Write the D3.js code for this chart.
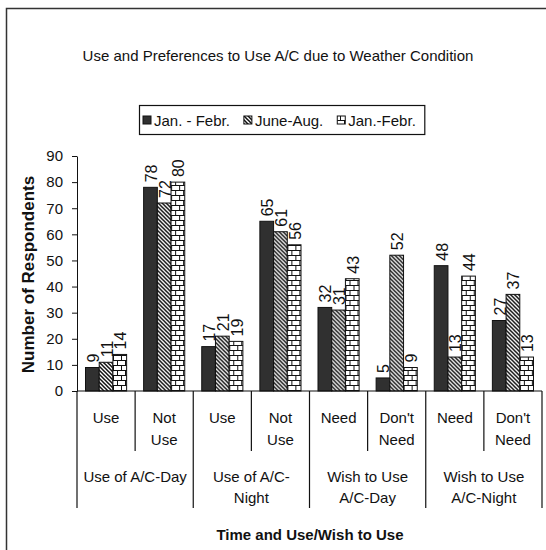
<!DOCTYPE html>
<html>
<head>
<meta charset="utf-8">
<script src="https://cdn.jsdelivr.net/npm/d3@7"></script>
<style>
  body { margin: 0; background: #fff; }
  text { font-family: "Liberation Sans", Arial, sans-serif; fill: #111; }
</style>
</head>
<body>
<svg id="chart"></svg>
<script>
let title = 'Use and Preferences to Use A/C due to Weather Condition'
let seriesNames = ['Jan. - Febr.', 'June-Aug.', 'Jan.-Febr.']
let subLabels = [['Use'], ['Not', 'Use'], ['Use'], ['Not', 'Use'], ['Need'], ["Don't", 'Need'], ['Need'], ["Don't", 'Need']]
let groupLabels = [['Use of A/C-Day'], ['Use of A/C-', 'Night'], ['Wish to Use', 'A/C-Day'], ['Wish to Use', 'A/C-Night']]
let janFeb = [9, 78, 17, 65, 32, 5, 48, 27]
let juneAug = [11, 72, 21, 61, 31, 52, 13, 37]
let janFeb2 = [14, 80, 19, 56, 43, 9, 44, 13]
let yTicks = [0, 10, 20, 30, 40, 50, 60, 70, 80, 90]

let opts = {
    width: 546,
    height: 550,
    left: 77,
    right: 542,
    top: 156,
    bottom: 391,
}

let series = [janFeb, juneAug, janFeb2]
let fills = ['#303030', 'url(#hatch)', 'url(#brick)']

let svg = d3.select('#chart')
    .attr('width', opts.width)
    .attr('height', opts.height)

// patterns
let defs = svg.append('defs')
let hatch = defs.append('pattern')
    .attr('id', 'hatch')
    .attr('patternUnits', 'userSpaceOnUse')
    .attr('width', 4)
    .attr('height', 4)
hatch.append('rect').attr('width', 4).attr('height', 4).attr('fill', '#fff')
hatch.append('path')
    .attr('d', 'M-1,-1 L5,5 M-1,3 L1,5 M3,-1 L5,1')
    .attr('stroke', '#111')
    .attr('stroke-width', 1.5)

let brick = defs.append('pattern')
    .attr('id', 'brick')
    .attr('patternUnits', 'userSpaceOnUse')
    .attr('width', 8)
    .attr('height', 10)
brick.append('rect').attr('width', 8).attr('height', 10).attr('fill', '#fff')
brick.append('path')
    .attr('d', 'M0,0.5 H8 M0,5.5 H8 M0.5,0 V5 M4.5,5 V10')
    .attr('stroke', '#111')
    .attr('stroke-width', 1)

// frame
svg.append('rect')
    .attr('x', 6.5)
    .attr('y', 8.5)
    .attr('width', 700)
    .attr('height', 700)
    .attr('fill', 'none')
    .attr('stroke', '#333')
    .attr('stroke-width', 1.5)

svg.append('text')
    .attr('x', 278)
    .attr('y', 55)
    .attr('text-anchor', 'middle')
    .attr('dominant-baseline', 'central')
    .style('font-size', '15px')
    .text(title)

// scales
let x = d3.scaleBand()
    .domain(d3.range(subLabels.length))
    .range([opts.left, opts.right])

let xs = d3.scaleBand()
    .domain(d3.range(series.length))
    .range([0, x.bandwidth()])
    .paddingInner(0)
    .paddingOuter(0.62)

let y = d3.scaleLinear()
    .domain([0, 90])
    .range([opts.bottom, opts.top])

// y axis
let yAxis = svg.append('g')
    .attr('transform', `translate(${opts.left},0)`)
    .call(d3.axisLeft(y).tickValues(yTicks).tickSizeInner(5).tickSizeOuter(0).tickPadding(9))
yAxis.select('.domain').attr('stroke', '#111')
yAxis.selectAll('.tick line').attr('stroke', '#111')
yAxis.selectAll('.tick text')
    .style('font-size', '15px')
    .style('font-family', '"Liberation Sans", Arial, sans-serif')
    .attr('fill', '#111')

svg.append('text')
    .attr('transform', `translate(28,${(opts.top + opts.bottom) / 2 + 1}) rotate(-90)`)
    .attr('text-anchor', 'middle')
    .attr('dominant-baseline', 'central')
    .style('font-size', '17px')
    .style('font-weight', 'bold')
    .text('Number of Respondents')

// bars
let groups = svg.selectAll('g.cat')
    .data(subLabels.map((d, i) => i))
    .enter().append('g')
    .attr('class', 'cat')
    .attr('transform', (d) => `translate(${x(d)},0)`)

series.forEach((vals, s) => {
    groups.append('rect')
        .attr('x', (d) => xs(s))
        .attr('y', (d) => y(vals[d]))
        .attr('width', xs.bandwidth())
        .attr('height', (d) => y(0) - y(vals[d]))
        .attr('fill', fills[s])
        .attr('stroke', '#111')
        .attr('stroke-width', 1)

    groups.append('text')
        .attr('transform', (d) => `translate(${xs(s) + xs.bandwidth() / 2 + 1},${y(vals[d]) - 5}) rotate(-90)`)
        .attr('text-anchor', 'start')
        .attr('dominant-baseline', 'central')
        .style('font-size', '16px')
        .text((d) => vals[d])
})

// x axis line and separators
svg.append('line')
    .attr('x1', x.range()[0])
    .attr('x2', x.range()[1])
    .attr('y1', y(0))
    .attr('y2', y(0))
    .attr('stroke', '#111')
    .attr('stroke-width', 1.2)

let edges = d3.range(subLabels.length + 1)
svg.selectAll('line.sep')
    .data(edges)
    .enter().append('line')
    .attr('class', 'sep')
    .attr('x1', (d) => opts.left + d * x.step())
    .attr('x2', (d) => opts.left + d * x.step())
    .attr('y1', y(0))
    .attr('y2', (d) => d % 2 === 0 ? 508 : 451)
    .attr('stroke', '#111')
    .attr('stroke-width', 1.2)

// sub-category labels
svg.selectAll('text.sub')
    .data(subLabels)
    .enter().append('text')
    .attr('class', 'sub')
    .attr('text-anchor', 'middle')
    .style('font-size', '15px')
    .each(function(lines, i) {
        let t = d3.select(this)
        lines.forEach((l, j) => {
            t.append('tspan')
                .attr('x', x(i) + x.bandwidth() / 2)
                .attr('y', 423 + j * 22)
                .text(l)
        })
    })

// group labels
svg.selectAll('text.grp')
    .data(groupLabels)
    .enter().append('text')
    .attr('class', 'grp')
    .attr('text-anchor', 'middle')
    .style('font-size', '15px')
    .each(function(lines, i) {
        let t = d3.select(this)
        lines.forEach((l, j) => {
            t.append('tspan')
                .attr('x', x(i * 2) + x.bandwidth())
                .attr('y', 482 + j * 21)
                .text(l)
        })
    })

svg.append('text')
    .attr('x', 310)
    .attr('y', 540)
    .attr('text-anchor', 'middle')
    .style('font-size', '15px')
    .style('font-weight', 'bold')
    .text('Time and Use/Wish to Use')

// legend
let legend = svg.append('g')
let lx = 143
let lastEnd = 0
seriesNames.forEach((name, s) => {
    let item = legend.append('g')
    item.append('rect')
        .attr('x', lx)
        .attr('y', 116)
        .attr('width', 8)
        .attr('height', 8)
        .attr('fill', fills[s])
        .attr('stroke', '#111')
    let t = item.append('text')
        .attr('x', lx + 11)
        .attr('y', 120)
        .attr('dominant-baseline', 'central')
        .style('font-size', '15px')
        .text(name)
    lastEnd = lx + 11 + t.node().getComputedTextLength()
    lx = lastEnd + 14
})
legend.insert('rect', ':first-child')
    .attr('x', 139.5)
    .attr('y', 105.5)
    .attr('width', lastEnd + 9 - 139.5)
    .attr('height', 29)
    .attr('fill', '#fff')
    .attr('stroke', '#111')
    .attr('stroke-width', 1.2)
</script>
</body>
</html>
